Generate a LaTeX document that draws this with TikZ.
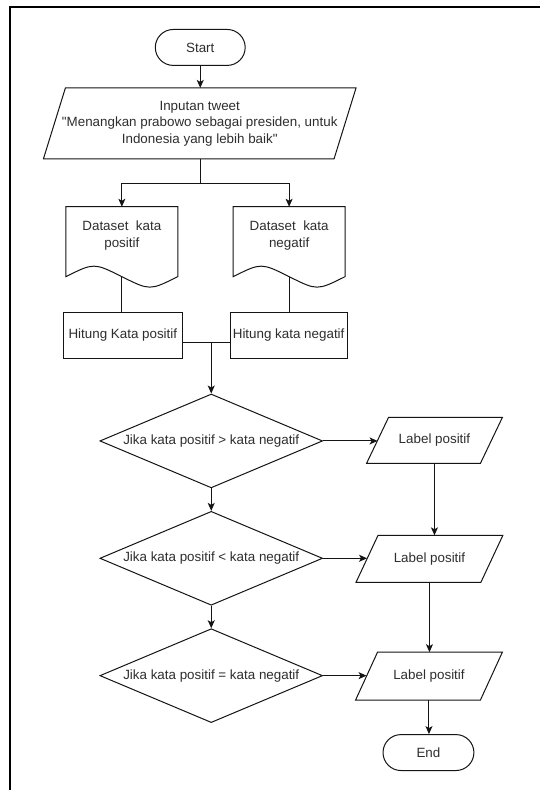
\documentclass[tikz,border=0pt]{standalone}
\usepackage{fontspec}
\setmainfont{Liberation Sans}[Ligatures=TeXOff]
\usetikzlibrary{shapes.geometric,arrows.meta,calc}
\definecolor{ink}{gray}{0.08}
\definecolor{txt}{gray}{0.18}
\begin{document}
\begin{tikzpicture}[x=1pt,y=-1pt,
  every path/.style={draw=ink, line width=1pt},
  base/.style={font=\fontsize{13.4}{16.5}\selectfont, text=txt, align=center, inner sep=0pt},
  term/.style={base, draw, rounded corners=18pt, minimum width=90pt, minimum height=36pt},
  para/.style={base, minimum height=46pt},
  docbox/.style={base, minimum width=111pt, minimum height=57pt},
  procbox/.style={base, draw, minimum height=46pt},
  cond/.style={base, draw, diamond, aspect=2.37, minimum width=223pt, minimum height=94pt},
  arr/.style={-{Stealth[length=8pt,width=7pt,inset=2pt]}},
]
\useasboundingbox (0,0) rectangle (540,790);
\fill[white, draw=none] (0,0) rectangle (540,790);

% outer frame
\draw[line width=1.5pt, draw=black] (9.5,790) -- (9.5,6.5) -- (540,6.5);

% nodes
\node[term] (start) at (200,47) {Start};
\node[para, minimum width=290pt, minimum height=70pt] (in) at (199.5,123)
  {Inputan tweet\\"Menangkan prabowo sebagai presiden, untuk\\Indonesia yang lebih baik"};
\node[docbox] (doc1) at (121.5,235.5) {Dataset\ \ kata\\positif};
\node[docbox] (doc2) at (289,235.5) {Dataset\ \ kata\\negatif};
\node[procbox, minimum width=119pt] (h1) at (122.5,335) {Hitung Kata positif};
\node[procbox, minimum width=117pt] (h2) at (288.5,335) {Hitung kata negatif};
\node[cond] (d1) at (211,441) {Jika kata positif > kata negatif};
\node[cond] (d2) at (211,558.5) {Jika kata positif < kata negatif};
\node[cond] (d3) at (211,676) {Jika kata positif = kata negatif};
\node[para, minimum width=113pt, minimum height=45pt] (p1) at (434.5,440.5) {Label positif};
\node[para, minimum width=124pt] (p2) at (429.5,559) {Label positif};
\node[para, minimum width=124pt, minimum height=47pt] (p3) at (429,676.5) {Label positif};
\node[term, minimum width=91pt] (end) at (428.5,753) {End};

% parallelogram outlines
\foreach \n in {in,p1,p2,p3}
  \draw[line join=miter] ([xshift=11pt]\n.north west) -- ([xshift=11pt]\n.north east)
    -- ([xshift=-11pt]\n.south east) -- ([xshift=-11pt]\n.south west) -- cycle;

% document outlines with wavy bottom
\foreach \n in {doc1,doc2}
  \draw (\n.north west) -- (\n.north east) -- ([yshift=-12pt]\n.south east)
    .. controls ($(\n.south)!0.5!(\n.south east)+(0,26)$) .. ([yshift=-12pt]\n.south)
    .. controls ($(\n.south)!0.5!(\n.south west)+(0,-2)$) .. ([yshift=-12pt]\n.south west)
    -- cycle;

% connectors
\coordinate (split) at (200,183);
\coordinate (join) at (211,342);
\draw[arr] (start.south) -- (start.south |- in.north);
\draw (split |- in.south) -- (split);
\draw[arr] (split) -| (doc1.north);
\draw[arr] (split) -| (doc2.north);
\draw ([yshift=-12pt]doc1.south) -- (doc1.south |- h1.north);
\draw ([yshift=-12pt]doc2.south) -- (doc2.south |- h2.north);
\draw (h1.east |- join) -- (h2.west |- join);
\draw[arr] (join) -- (d1.north);
\draw[arr] (d1.south) -- (d2.north);
\draw[arr] (d2.south) -- (d3.north);
\draw[arr] (d1.east) -- (d1.east -| p1.west);
\draw[arr] (d2.east) -- (d2.east -| p2.west);
\draw[arr] (d3.east) -- (d3.east -| p3.west);
\draw[arr] (p1.south) -- (p1.south |- p2.north);
\draw[arr] (p2.south) -- (p2.south |- p3.north);
\draw[arr] (p3.south) -- (p3.south |- end.north);
\end{tikzpicture}
\end{document}
